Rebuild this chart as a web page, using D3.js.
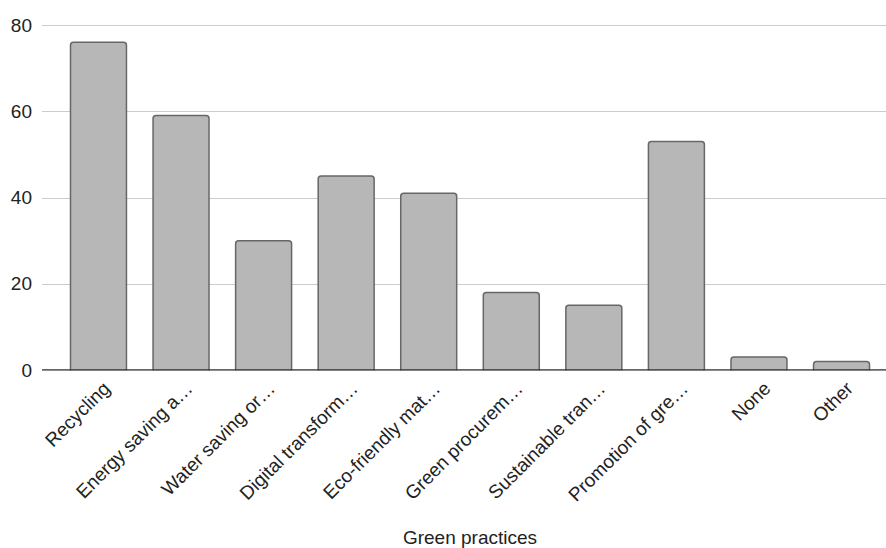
<!DOCTYPE html>
<html>
<head>
<meta charset="utf-8">
<script src="https://cdn.jsdelivr.net/npm/d3@7"></script>
<style>
  html, body { margin: 0; padding: 0; background: #fff; }
  svg text { font-family: "Liberation Sans", Arial, sans-serif; fill: #222; }
</style>
</head>
<body>
<svg id="chart" width="886" height="548"></svg>
<script>
// Survey answers: green practices adopted
const categories = [
  "Recycling", "Energy saving a…", "Water saving or…", "Digital transform…",
  "Eco-friendly mat…", "Green procurem…", "Sustainable tran…", "Promotion of gre…",
  "None", "Other"
];
const counts = [76, 59, 30, 45, 41, 18, 15, 53, 3, 2];
const yTicks = [0, 20, 40, 60, 80];
const xTitle = "Green practices";

const svg = d3.select("#chart");
const plot = { left: 42, right: 886, top: 25, bottom: 370 };

const x = d3.scaleBand()
  .domain(categories)
  .range([57.2, 882.8])
  .paddingInner(0.31)
  .paddingOuter(0.155);

const y = d3.scaleLinear()
  .domain([0, 80])
  .range([plot.bottom, plot.top]);

// horizontal gridlines
svg.append("g")
  .selectAll("line")
  .data(yTicks.filter(t => t !== 0))
  .join("line")
  .attr("x1", plot.left)
  .attr("x2", plot.right)
  .attr("y1", d => Math.round(y(d)) + 0.5)
  .attr("y2", d => Math.round(y(d)) + 0.5)
  .attr("stroke", "#cccccc")
  .attr("stroke-width", 1);

// y axis labels
const yAxis = svg.append("g")
  .attr("transform", `translate(${plot.left},0)`)
  .call(d3.axisLeft(y).tickValues(yTicks).tickSize(0).tickPadding(10));
yAxis.select(".domain").remove();
yAxis.selectAll("text")
  .style("font-size", "19px")
  .attr("fill", "#222");

// bars
svg.append("g")
  .selectAll("rect")
  .data(categories.map((c, i) => ({ c, v: counts[i] })))
  .join("rect")
  .attr("x", d => x(d.c) + 0.5)
  .attr("y", d => y(d.v))
  .attr("width", x.bandwidth() - 1)
  .attr("height", d => y(0) - y(d.v) + 3)
  .attr("rx", 3)
  .attr("fill", "#b7b7b7")
  .attr("stroke", "#676767")
  .attr("stroke-width", 1.5);

// baseline
svg.append("line")
  .attr("x1", plot.left)
  .attr("x2", plot.right)
  .attr("y1", y(0))
  .attr("y2", y(0))
  .attr("stroke", "#333")
  .attr("stroke-width", 1.5);

// cover the bar bottoms below the baseline
svg.append("rect")
  .attr("x", plot.left)
  .attr("y", y(0) + 0.75)
  .attr("width", plot.right - plot.left)
  .attr("height", 6)
  .attr("fill", "#fff");

// rotated category labels
svg.append("g")
  .selectAll("text")
  .data(categories)
  .join("text")
  .attr("transform", d => `translate(${x(d) + x.bandwidth() / 2 + 8},${plot.bottom + 15}) rotate(-45)`)
  .attr("text-anchor", "end")
  .attr("dy", "0.35em")
  .style("font-size", "19px")
  .text(d => d);

// x axis title
svg.append("text")
  .attr("x", 470)
  .attr("y", 544)
  .attr("text-anchor", "middle")
  .style("font-size", "19px")
  .text(xTitle);
</script>
</body>
</html>
